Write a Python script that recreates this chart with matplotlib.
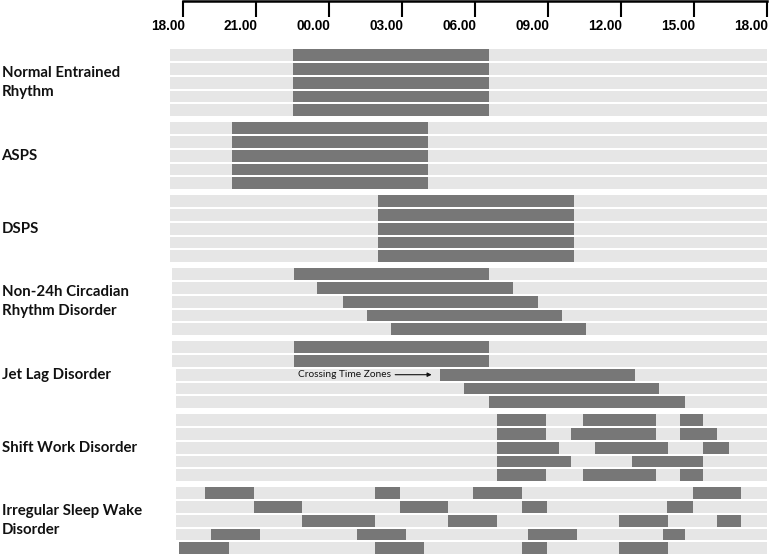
import matplotlib
matplotlib.use("Agg")
import matplotlib.pyplot as plt
import matplotlib.transforms as mtransforms

# ---------------- data (hours after 18.00 on the top time axis) ----------------
GROUP_LABELS = [
    "Normal Entrained\nRhythm",
    "ASPS",
    "DSPS",
    "Non-24h Circadian\nRhythm Disorder",
    "Jet Lag Disorder",
    "Shift Work Disorder",
    "Irregular Sleep Wake\nDisorder",
]
TICK_HOURS = [0, 3, 6, 9, 12, 15, 18, 21, 24]
TICK_LABELS = ["18.00", "21.00", "00.00", "03.00", "06.00", "09.00", "12.00", "15.00", "18.00"]

normal_sleep = [[(4.53, 12.59)]] * 5
asps_sleep = [[(2.02, 10.07)]] * 5
dsps_sleep = [[(8.02, 16.08)]] * 5
non24_sleep = [
    [(4.54, 12.57)],
    [(5.52, 13.55)],
    [(6.57, 14.60)],
    [(7.54, 15.60)],
    [(8.54, 16.57)],
]
jetlag_sleep = [
    [(4.54, 12.57)],
    [(4.54, 12.57)],
    [(10.56, 18.59)],
    [(11.54, 19.58)],
    [(12.57, 20.63)],
]
shift_sleep = [
    [(12.93, 14.93), (16.45, 19.45), (20.45, 21.40)],
    [(12.93, 14.93), (15.94, 19.45), (20.45, 21.96)],
    [(12.93, 15.45), (16.94, 19.93), (21.40, 22.44)],
    [(12.93, 15.94), (18.45, 21.40)],
    [(12.93, 14.93), (16.45, 19.45), (20.45, 21.40)],
]
irregular_sleep = [
    [(0.88, 2.91), (7.89, 8.93), (11.93, 13.94), (20.96, 22.97)],
    [(2.92, 4.89), (8.93, 10.89), (13.94, 14.95), (19.92, 20.96)],
    [(4.89, 7.89), (10.89, 12.93), (17.95, 19.94), (21.96, 22.97)],
    [(1.14, 3.16), (7.16, 9.18), (14.20, 16.22), (19.73, 20.66)],
    [(-0.16, 1.88), (7.89, 9.90), (13.94, 14.95), (17.95, 19.94)],
]
SLEEP = [normal_sleep, asps_sleep, dsps_sleep, non24_sleep,
         jetlag_sleep, shift_sleep, irregular_sleep]

# start of the light background rows (hours), end is the same for all
bg_start = [
    [-0.55] * 5,
    [-0.55] * 5,
    [-0.55] * 5,
    [-0.46] * 5,
    [-0.46, -0.46, -0.31, -0.31, -0.31],
    [-0.31] * 5,
    [-0.31, -0.31, -0.31, -0.31, -0.15],
]
BG_END = 24.0

ANNOT_TEXT = "Crossing Time Zones"

# ---------------- layout ----------------
W, H = 771, 555
ROW0_TOP = 49.3
ROW_STEP = 13.75
GROUP_STEP = 73.0
BAR_H = 11.8
LIGHT = "#e6e6e6"
DARK = "#777777"

fig = plt.figure(figsize=(W / 100, H / 100), dpi=100)
ax = fig.add_axes([0, 0, 1, 1])
ax.set_xlim(-183.3 / 24.3, (W - 183.3) / 24.3)
ax.set_ylim(H, 0)


def row_center(g, i):
    return ROW0_TOP + g * GROUP_STEP + i * ROW_STEP + BAR_H / 2


for g, rows in enumerate(SLEEP):
    for i, segs in enumerate(rows):
        yc = row_center(g, i)
        s0 = bg_start[g][i]
        ax.barh(yc, BG_END - s0, left=s0, height=BAR_H, color=LIGHT, lw=0)
        for (a, b) in segs:
            ax.barh(yc, b - a, left=a, height=BAR_H, color=DARK, lw=0)

# group labels
trans = mtransforms.blended_transform_factory(ax.transAxes, ax.transData)
for g, lab in enumerate(GROUP_LABELS):
    yc = ROW0_TOP + g * GROUP_STEP + (4 * ROW_STEP + BAR_H) / 2
    ax.text(1.5 / W, yc, lab, transform=trans, ha="left", va="center",
            fontsize=10.8, fontweight="bold", family="Lato",
            color="#111111", linespacing=1.45)

# annotation in jet lag group
ya = row_center(4, 2)
ax.text(4.73, ya, ANNOT_TEXT, ha="left", va="center", fontsize=7.3,
        family="Lato", color="#111111")
ax.annotate("", xy=(jetlag_sleep[2][0][0] - 0.34, ya), xytext=(8.72, ya),
            arrowprops=dict(arrowstyle="-|>", lw=0.8, color="#111111",
                            mutation_scale=6, shrinkA=0, shrinkB=0))

# top time axis
for side in ["left", "right", "bottom"]:
    ax.spines[side].set_visible(False)
ax.spines["top"].set_position(("data", 1.3))
ax.spines["top"].set_bounds(TICK_HOURS[0], TICK_HOURS[-1])
ax.spines["top"].set_linewidth(1.8)
ax.xaxis.set_ticks_position("top")
ax.set_xticks(TICK_HOURS)
ax.tick_params(axis="x", direction="in", length=11.5, width=1.5,
               labeltop=False, labelbottom=False, color="black")
ax.set_yticks([])

for h, lab in zip(TICK_HOURS, TICK_LABELS):
    ax.text(h + 0.05, 30, lab, ha="right", va="baseline", fontsize=9.8,
            fontweight="bold", family="Liberation Sans", color="black")

fig.savefig("out.png", dpi=100)
